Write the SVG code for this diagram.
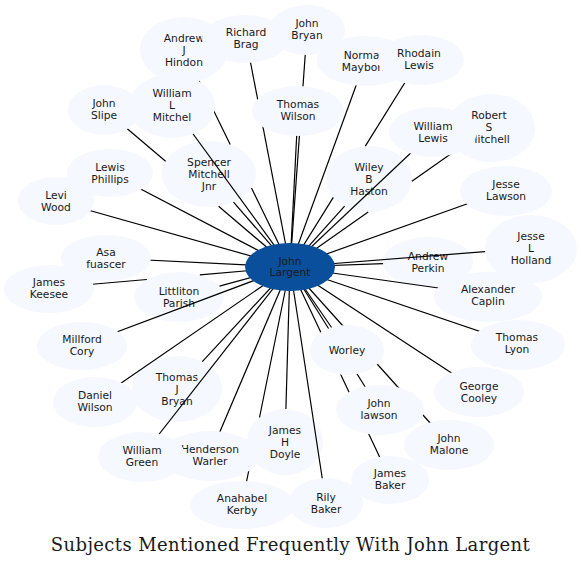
<svg xmlns="http://www.w3.org/2000/svg" width="581" height="567" viewBox="0 0 581 567">
<style>
.n ellipse{fill:#f5f8fe;stroke:none}
.c ellipse{fill:#0a4f9c;stroke:none}
text{font-family:"DejaVu Sans","Liberation Sans",sans-serif;font-size:10.7px;fill:#1a1a1a;text-anchor:middle}
#connectors path{fill:none;stroke:#000;stroke-width:1.2}
.title{font-family:"DejaVu Serif","Liberation Serif",serif;font-size:18px;fill:#1a1a1a}
</style>
<rect width="581" height="567" fill="#fff"/>
<g id="spencer" class="n"><ellipse cx="209" cy="174" rx="47" ry="33"/><text x="209"><tspan x="209" y="166">Spencer</tspan><tspan x="209" y="178">Mitchell</tspan><tspan x="209" y="190">Jnr</tspan></text></g>
<g id="littliton" class="n"><ellipse cx="179" cy="297" rx="45" ry="25"/><text><tspan x="179" y="295">Littliton</tspan><tspan x="179" y="307">Parish</tspan></text></g>
<g id="thomas-j-bryan" class="n"><ellipse cx="177" cy="389" rx="45" ry="33"/><text><tspan x="177" y="381">Thomas</tspan><tspan x="177" y="393">J</tspan><tspan x="177" y="405">Bryan</tspan></text></g>
<g id="andrew-perkin" class="n"><ellipse cx="428" cy="262" rx="45" ry="25"/><text><tspan x="428" y="260">Andrew</tspan><tspan x="428" y="272">Perkin</tspan></text></g>
<g id="wiley" class="n"><ellipse cx="369" cy="179" rx="43" ry="33"/><text><tspan x="369" y="171">Wiley</tspan><tspan x="369" y="183">B</tspan><tspan x="369" y="195">Haston</tspan></text></g>
<g id="doyle" class="n"><ellipse cx="285" cy="442" rx="38" ry="33"/><text><tspan x="285" y="434">James</tspan><tspan x="285" y="446">H</tspan><tspan x="285" y="458">Doyle</tspan></text></g>
<g id="connectors">
<path d="M290,267 L251.5,188.1 M230.2,144.5 L184,50"/>
<path d="M290,267 L246,39"/>
<path d="M290,267 L307,30"/>
<path d="M290,267 L365,61"/>
<path d="M290,267 L333.3,197.4 M365.3,146.1 L419,60"/>
<path d="M290,267 L298,110"/>
<path d="M290,267 L172,105"/>
<path d="M290,267 L218.6,206.3 M165.6,161.3 L104,109"/>
<path d="M290,267 L233.5,202.2"/>
<path d="M290,267 L110,173"/>
<path d="M290,267 L56,201"/>
<path d="M290,267 L106,258"/>
<path d="M290,267 L199.9,274.9 M146.9,279.5 L49,288"/>
<path d="M290,267 L219.5,286.1"/>
<path d="M290,267 L82,345"/>
<path d="M290,267 L202.3,361.7"/>
<path d="M290,267 L95,401"/>
<path d="M290,267 L142,456"/>
<path d="M290,267 L210,455"/>
<path d="M290,267 L285.9,409"/>
<path d="M290,267 L259.5,417.5 M251.4,457.5 L242,504"/>
<path d="M290,267 L326,503"/>
<path d="M290,267 L390,479"/>
<path d="M290,267 L379,409"/>
<path d="M290,267 L449,444"/>
<path d="M290,267 L479,391"/>
<path d="M290,267 L347,350"/>
<path d="M290,267 L517,344"/>
<path d="M290,267 L488,295"/>
<path d="M290,267 L383.1,263.6"/>
<path d="M290,267 L531,248"/>
<path d="M290,267 L506,190"/>
<path d="M290,267 L344.6,206.2"/>
<path d="M290,267 L433,132"/>
<path d="M290,267 L368.2,212 M411.9,181.2 L489,127"/>
</g>
<g id="john-largent" class="c"><ellipse cx="290" cy="267" rx="45" ry="24"/><text><tspan x="290" y="264.5">John</tspan><tspan x="290" y="276">Largent</tspan></text></g>
<g id="hindon" class="n"><ellipse cx="184" cy="50" rx="44" ry="33"/><text><tspan x="184" y="42">Andrew</tspan><tspan x="184" y="54">J</tspan><tspan x="184" y="66">Hindon</tspan></text></g>
<g id="brag" class="n"><ellipse cx="245" cy="39" rx="43" ry="24"/><text><tspan x="246" y="36">Richard</tspan><tspan x="246" y="48">Brag</tspan></text></g>
<g id="john-bryan" class="n"><ellipse cx="307" cy="30" rx="38" ry="25"/><text><tspan x="307" y="27">John</tspan><tspan x="307" y="39">Bryan</tspan></text></g>
<g id="norman" class="n"><ellipse cx="365" cy="61" rx="48" ry="25"/><text><tspan x="365" y="59">Norman</tspan><tspan x="365" y="71">Mayborn</tspan></text></g>
<g id="rhodain" class="n"><ellipse cx="421" cy="60" rx="43" ry="25"/><text><tspan x="419" y="57">Rhodain</tspan><tspan x="419" y="69">Lewis</tspan></text></g>
<g id="thomas-wilson" class="n"><ellipse cx="298" cy="111" rx="46" ry="25"/><text><tspan x="298" y="108">Thomas</tspan><tspan x="298" y="120">Wilson</tspan></text></g>
<g id="mitchel" class="n"><ellipse cx="172" cy="106" rx="43" ry="32"/><text><tspan x="172" y="97">William</tspan><tspan x="172" y="109">L</tspan><tspan x="172" y="121">Mitchel</tspan></text></g>
<g id="slipe" class="n"><ellipse cx="104" cy="110" rx="36" ry="25"/><text><tspan x="104" y="107">John</tspan><tspan x="104" y="119">Slipe</tspan></text></g>
<g id="lewis-phillips" class="n"><ellipse cx="110" cy="173" rx="43" ry="24"/><text><tspan x="110" y="171">Lewis</tspan><tspan x="110" y="183">Phillips</tspan></text></g>
<g id="levi-wood" class="n"><ellipse cx="56" cy="201" rx="38" ry="24"/><text><tspan x="56" y="199">Levi</tspan><tspan x="56" y="211">Wood</tspan></text></g>
<g id="asa" class="n"><ellipse cx="106" cy="258" rx="45" ry="23"/><text><tspan x="106" y="256">Asa</tspan><tspan x="106" y="268">fuascer</tspan></text></g>
<g id="keesee" class="n"><ellipse cx="49" cy="289" rx="45" ry="24"/><text><tspan x="49" y="286">James</tspan><tspan x="49" y="298">Keesee</tspan></text></g>
<g id="millford" class="n"><ellipse cx="82" cy="346" rx="45" ry="24"/><text><tspan x="82" y="343">Millford</tspan><tspan x="82" y="355">Cory</tspan></text></g>
<g id="daniel-wilson" class="n"><ellipse cx="95" cy="402" rx="42" ry="25"/><text><tspan x="95" y="399">Daniel</tspan><tspan x="95" y="411">Wilson</tspan></text></g>
<g id="henderson" class="n"><ellipse cx="210" cy="456" rx="49" ry="25"/><text><tspan x="210" y="453">Henderson</tspan><tspan x="210" y="465">Warler</tspan></text></g>
<g id="william-green" class="n"><ellipse cx="142" cy="457" rx="44" ry="25"/><text><tspan x="142" y="454">William</tspan><tspan x="142" y="466">Green</tspan></text></g>
<g id="anahabel" class="n"><ellipse cx="242" cy="505" rx="52" ry="24"/><text><tspan x="242" y="502">Anahabel</tspan><tspan x="242" y="514">Kerby</tspan></text></g>
<g id="rily" class="n"><ellipse cx="326" cy="503" rx="37" ry="25"/><text><tspan x="326" y="500.5">Rily</tspan><tspan x="326" y="512.5">Baker</tspan></text></g>
<g id="james-baker" class="n"><ellipse cx="390" cy="480" rx="39" ry="24"/><text><tspan x="390" y="477">James</tspan><tspan x="390" y="489">Baker</tspan></text></g>
<g id="john-lawson" class="n"><ellipse cx="380" cy="410" rx="44" ry="25"/><text><tspan x="379" y="407">John</tspan><tspan x="379" y="419">lawson</tspan></text></g>
<g id="john-malone" class="n"><ellipse cx="449" cy="445" rx="45" ry="25"/><text><tspan x="449" y="442">John</tspan><tspan x="449" y="454">Malone</tspan></text></g>
<g id="george-cooley" class="n"><ellipse cx="479" cy="392" rx="45" ry="25"/><text><tspan x="479" y="390">George</tspan><tspan x="479" y="402">Cooley</tspan></text></g>
<g id="worley" class="n"><ellipse cx="347" cy="350" rx="37" ry="25"/><text x="347" y="354">Worley</text></g>
<g id="thomas-lyon" class="n"><ellipse cx="518" cy="345" rx="47" ry="25"/><text><tspan x="517" y="341">Thomas</tspan><tspan x="517" y="353">Lyon</tspan></text></g>
<g id="caplin" class="n"><ellipse cx="488" cy="297" rx="54" ry="25"/><text><tspan x="488" y="293">Alexander</tspan><tspan x="488" y="305">Caplin</tspan></text></g>
<g id="holland" class="n"><ellipse cx="531" cy="249" rx="46" ry="34"/><text><tspan x="531" y="240">Jesse</tspan><tspan x="531" y="252">L</tspan><tspan x="531" y="264">Holland</tspan></text></g>
<g id="jesse-lawson" class="n"><ellipse cx="506" cy="191" rx="46" ry="25"/><text><tspan x="506" y="188">Jesse</tspan><tspan x="506" y="200">Lawson</tspan></text></g>
<g id="robert" class="n"><ellipse cx="491" cy="128" rx="44" ry="34"/><text><tspan x="489" y="119">Robert</tspan><tspan x="489" y="131">S</tspan><tspan x="489" y="143">Mitchell</tspan></text></g>
<g id="william-lewis" class="n"><ellipse cx="433" cy="132" rx="44" ry="25"/><text><tspan x="433" y="130">William</tspan><tspan x="433" y="142">Lewis</tspan></text></g>
<text class="title" x="290.3" y="551" textLength="479" lengthAdjust="spacing">Subjects Mentioned Frequently With John Largent</text>
</svg>
